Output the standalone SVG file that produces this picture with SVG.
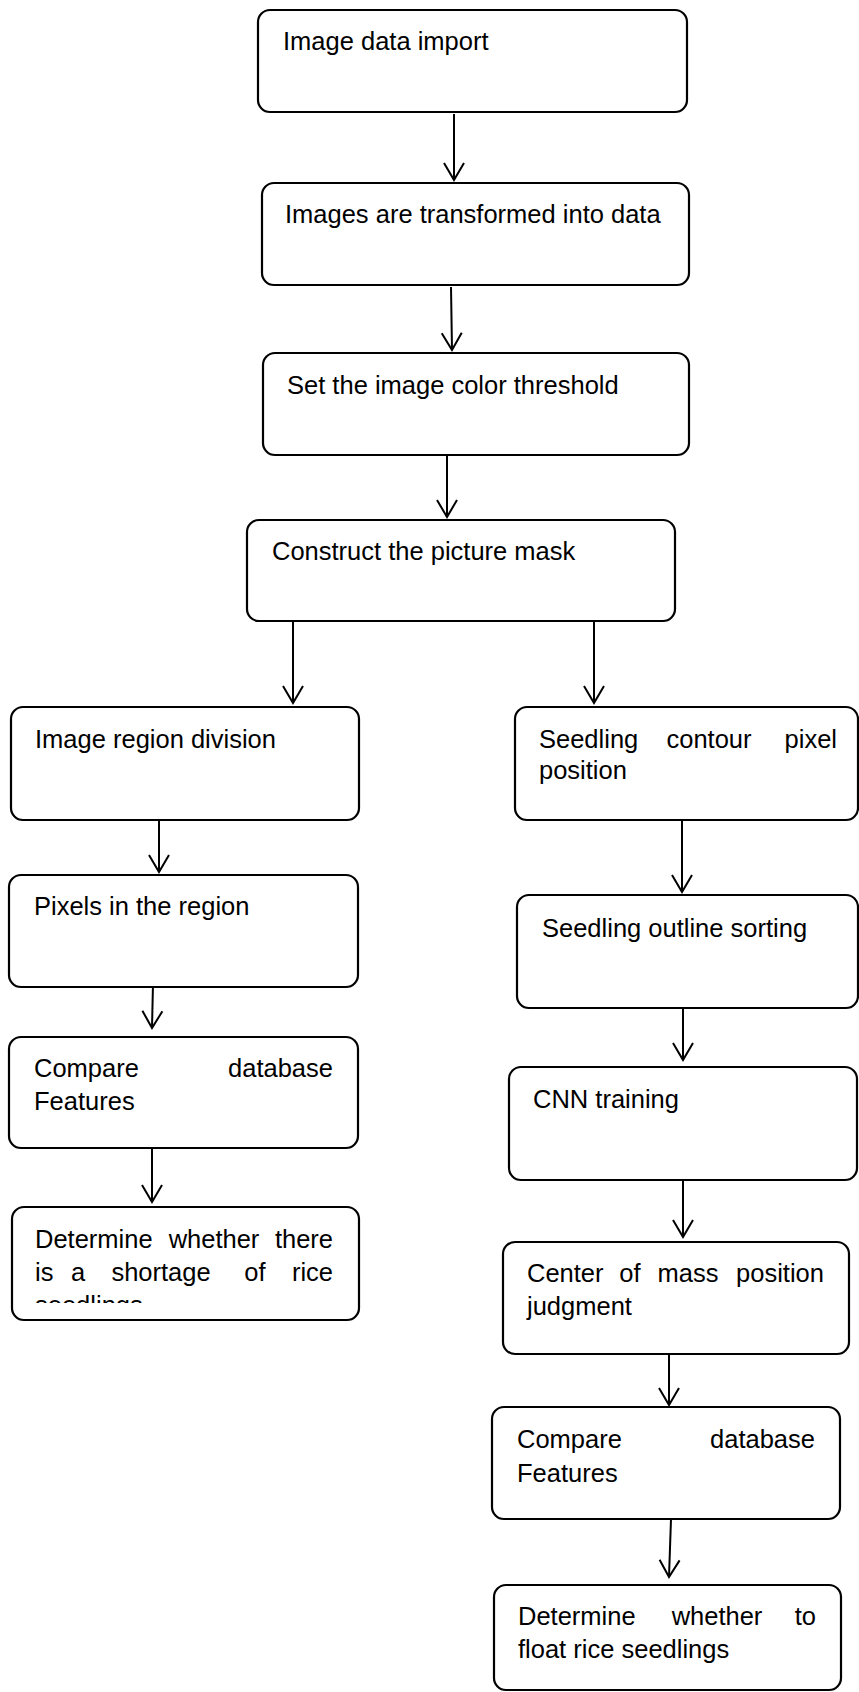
<svg xmlns="http://www.w3.org/2000/svg" width="859" height="1692" viewBox="0 0 859 1692">
<style>
.box{fill:#fff;stroke:#000;stroke-width:2.2}
.t{font-family:"Liberation Sans",Arial,sans-serif;font-size:25.5px;fill:#000}
.e{text-anchor:end}
.m{text-anchor:middle}
.c{fill:none;stroke:#000;stroke-width:2}
</style>
<defs>
<marker id="ah" markerUnits="userSpaceOnUse" viewBox="-20 -12 24 24" refX="0" refY="0" markerWidth="24" markerHeight="24" orient="auto" overflow="visible">
<path d="M-17,-10 L0,0 L-17,10" fill="none" stroke="#000" stroke-width="2"/>
</marker>
<clipPath id="clip8"><rect x="12" y="1207" width="347" height="96"/></clipPath>
</defs>
<rect width="859" height="1692" fill="#fff"/>
<g id="connectors">
<path class="c" d="M454,114 L454,180" marker-end="url(#ah)"/>
<path class="c" d="M451,287 L452,350" marker-end="url(#ah)"/>
<path class="c" d="M447,455 L447,517" marker-end="url(#ah)"/>
<path class="c" d="M293,622 L293,703" marker-end="url(#ah)"/>
<path class="c" d="M594,622 L594,703" marker-end="url(#ah)"/>
<path class="c" d="M159,820 L159,872" marker-end="url(#ah)"/>
<path class="c" d="M153,984 L152,1028" marker-end="url(#ah)"/>
<path class="c" d="M152,1148 L152,1202" marker-end="url(#ah)"/>
<path class="c" d="M682,820 L682,892" marker-end="url(#ah)"/>
<path class="c" d="M683,1008 L683,1060" marker-end="url(#ah)"/>
<path class="c" d="M683,1180 L683,1237" marker-end="url(#ah)"/>
<path class="c" d="M669,1354 L669,1405" marker-end="url(#ah)"/>
<path class="c" d="M671,1519 L669,1577" marker-end="url(#ah)"/>
</g>
<g id="n1"><rect class="box" x="258" y="10" width="429" height="102" rx="12"/><text class="t" x="283" y="50">Image data import</text></g>
<g id="n2"><rect class="box" x="262" y="183" width="427" height="102" rx="12"/><text class="t" x="285" y="223">Images are transformed into data</text></g>
<g id="n3"><rect class="box" x="263" y="353" width="426" height="102" rx="12"/><text class="t" x="287" y="394">Set the image color threshold</text></g>
<g id="n4"><rect class="box" x="247" y="520" width="428" height="101" rx="12"/><text class="t" x="272" y="560">Construct the picture mask</text></g>
<g id="n5"><rect class="box" x="11" y="707" width="348" height="113" rx="12"/><text class="t" x="35" y="748">Image region division</text></g>
<g id="n6"><rect class="box" x="9" y="875" width="349" height="112" rx="12"/><text class="t" x="34" y="915">Pixels in the region</text></g>
<g id="n7"><rect class="box" x="9" y="1037" width="349" height="111" rx="12"/><text class="t" x="34" y="1077">Compare</text><text class="t e" x="333" y="1077">database</text><text class="t" x="34" y="1110">Features</text></g>
<g id="n8"><rect class="box" x="12" y="1207" width="347" height="113" rx="12"/>
<g clip-path="url(#clip8)"><text class="t" x="35" y="1248">Determine</text><text class="t m" x="214" y="1248">whether</text><text class="t e" x="333" y="1248">there</text>
<text class="t" x="35" y="1281">is</text><text class="t m" x="78" y="1281">a</text><text class="t m" x="161" y="1281">shortage</text><text class="t m" x="255" y="1281">of</text><text class="t e" x="333" y="1281">rice</text>
<text class="t" x="35" y="1314">seedlings</text></g></g>
<g id="n9"><rect class="box" x="515" y="707" width="343" height="113" rx="12"/><text class="t" x="539" y="748">Seedling</text><text class="t m" x="709" y="748">contour</text><text class="t e" x="837" y="748">pixel</text><text class="t" x="539" y="779">position</text></g>
<g id="n10"><rect class="box" x="517" y="895" width="341" height="113" rx="12"/><text class="t" x="542" y="937">Seedling outline sorting</text></g>
<g id="n11"><rect class="box" x="509" y="1067" width="348" height="113" rx="12"/><text class="t" x="533" y="1108">CNN training</text></g>
<g id="n12"><rect class="box" x="503" y="1242" width="346" height="112" rx="12"/><text class="t" x="527" y="1282">Center</text><text class="t m" x="630" y="1282">of</text><text class="t m" x="688" y="1282">mass</text><text class="t e" x="824" y="1282">position</text><text class="t" x="527" y="1315">judgment</text></g>
<g id="n13"><rect class="box" x="492" y="1407" width="348" height="112" rx="12"/><text class="t" x="517" y="1448">Compare</text><text class="t e" x="815" y="1448">database</text><text class="t" x="517" y="1482">Features</text></g>
<g id="n14"><rect class="box" x="494" y="1585" width="347" height="105" rx="12"/><text class="t" x="518" y="1625">Determine</text><text class="t m" x="717" y="1625">whether</text><text class="t e" x="816" y="1625">to</text><text class="t" x="518" y="1658">float rice seedlings</text></g>
</svg>
